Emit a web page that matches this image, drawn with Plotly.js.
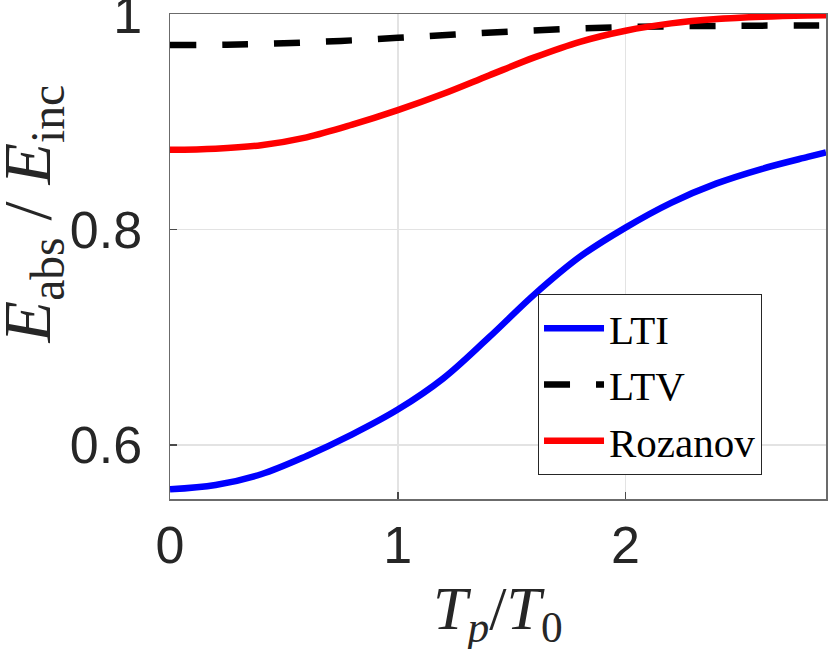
<!DOCTYPE html>
<html>
<head>
<meta charset="utf-8">
<script src="https://cdn.plot.ly/plotly-3.0.1.min.js"></script>
<style>html,body{margin:0;padding:0;background:#fff;}#chart{width:830px;height:649px;}</style>
</head>
<body>
<div id="chart"></div>
<script>
// LTI
var xLTI = [0, 0.2, 0.4, 0.6, 0.8, 1.0, 1.2, 1.4, 1.6, 1.8, 2.0, 2.2, 2.4, 2.6, 2.8, 2.88];
var yLTI = [0.559, 0.563, 0.573, 0.590, 0.610, 0.633, 0.662, 0.700, 0.740, 0.775, 0.802, 0.825, 0.843, 0.8566, 0.8676, 0.8718];
// LTV
var xLTV = [0, 0.25, 0.5, 0.75, 1.0, 1.25, 1.5, 1.75, 2.0, 2.25, 2.5, 2.75, 2.88];
var yLTV = [0.9715, 0.9718, 0.9732, 0.9753, 0.9782, 0.9812, 0.9841, 0.9865, 0.9882, 0.9890, 0.9894, 0.9896, 0.9897];
// Rozanov
var xRoz = [0, 0.2, 0.4, 0.6, 0.8, 1.0, 1.2, 1.4, 1.6, 1.8, 2.0, 2.2, 2.4, 2.6, 2.8, 2.88];
var yRoz = [0.8742, 0.8752, 0.8785, 0.8858, 0.8975, 0.9110, 0.9262, 0.9432, 0.9600, 0.9745, 0.9848, 0.9916, 0.9956, 0.9978, 0.9990, 0.9992];

var xTicks = [0, 1, 2];
var yTicks = [0.6, 0.8, 1];
var yTickText = ['0.6', '0.8', '1'];

var traces = [
  {x: xLTI, y: yLTI, name: 'LTI', mode: 'lines', line: {color: '#0000ff', width: 6.5, shape: 'spline', smoothing: 1}},
  {x: xLTV, y: yLTV, name: 'LTV', mode: 'lines', line: {color: '#000000', width: 6.5, dash: '26px,26px', shape: 'spline', smoothing: 1}},
  {x: xRoz, y: yRoz, name: 'Rozanov', mode: 'lines', line: {color: '#ff0000', width: 6.5, shape: 'spline', smoothing: 1}}
];

var tickFont = {family: '"Liberation Sans", Arial, sans-serif', size: 52, color: '#262626'};
var serif = '"Liberation Serif", "Times New Roman", serif';

var layout = {
  width: 830, height: 649,
  margin: {l: 170, r: 4, t: 14, b: 150},
  paper_bgcolor: '#fff', plot_bgcolor: '#fff',
  showlegend: true,
  xaxis: {
    range: [0, 2.88], tickvals: xTicks, ticktext: xTicks.map(String),
    showgrid: true, gridcolor: '#e3e3e3', gridwidth: 1.5,
    zeroline: false, showline: true, linecolor: '#6b6b6b', linewidth: 1.5, mirror: true,
    ticks: 'inside', ticklen: 7, tickcolor: '#4a4a4a', tickwidth: 1.5,
    tickfont: tickFont, ticklabelstandoff: 0, ticklabeloverflow: 'allow'
  },
  yaxis: {
    range: [0.55, 1.0003], tickvals: yTicks, ticktext: yTickText,
    showgrid: true, gridcolor: '#e3e3e3', gridwidth: 1.5,
    zeroline: false, showline: true, linecolor: '#6b6b6b', linewidth: 1.5, mirror: true,
    ticks: 'inside', ticklen: 7, tickcolor: '#4a4a4a', tickwidth: 1.5,
    tickfont: tickFont, ticklabelstandoff: 16, ticklabeloverflow: 'allow'
  },
  legend: {
    x: 0.561, y: 0.4227, xanchor: 'left', yanchor: 'top',
    bgcolor: '#ffffff', bordercolor: '#262626', borderwidth: 1,
    font: {family: serif, size: 41, color: '#000'},
    itemwidth: 60, tracegroupgap: 0, entrywidth: 245, entrywidthmode: 'pixels'
  },
  annotations: [
    {text: '<i>E</i><sub>abs</sub>\u00a0/\u00a0<i>E</i><sub>inc</sub>', xref: 'paper', yref: 'paper',
     x: -0.211, y: 0.588, xanchor: 'center', yanchor: 'middle', textangle: -90, showarrow: false,
     font: {family: serif, size: 68, color: '#262626'}},
    {text: '<i>T</i><sub><i>p</i></sub>/<i>T</i><sub>0</sub>', xref: 'paper', yref: 'paper',
     x: 0.5, y: -0.233, xanchor: 'center', yanchor: 'middle', showarrow: false,
     font: {family: serif, size: 62, color: '#262626'}}
  ]
};

Plotly.newPlot('chart', traces, layout, {displayModeBar: false, staticPlot: true});
</script>
</body>
</html>
